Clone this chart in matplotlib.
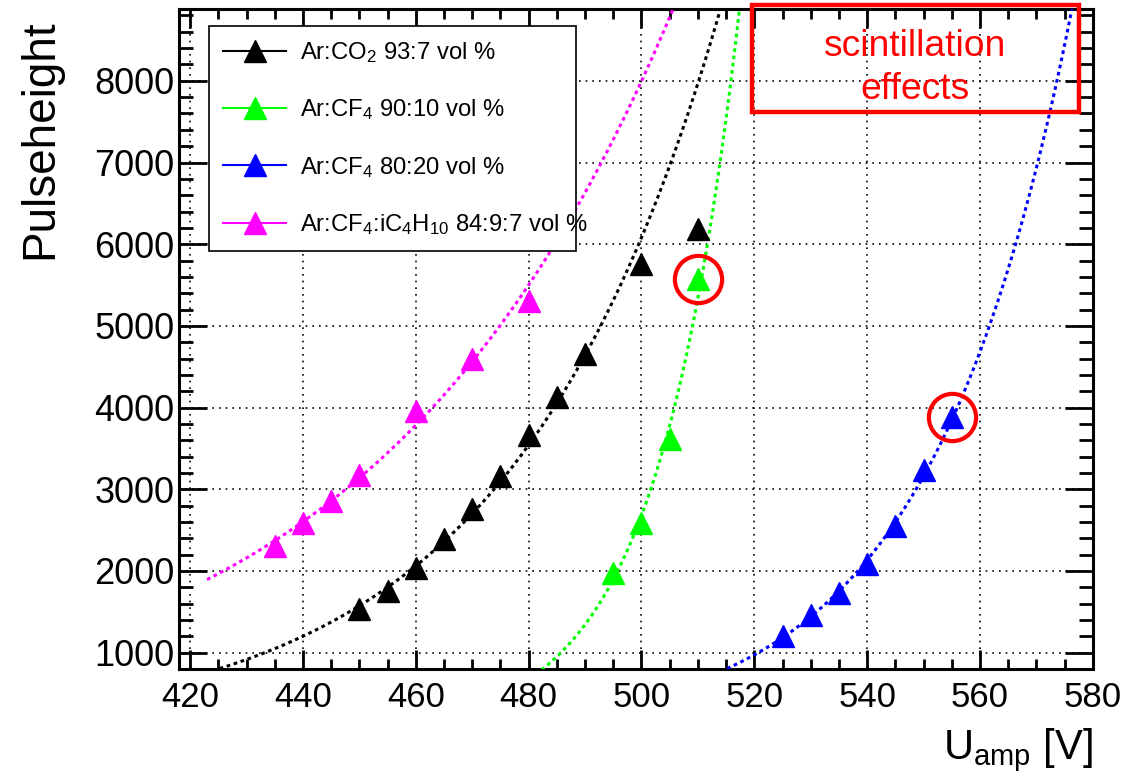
import numpy as np
import matplotlib
matplotlib.use("Agg")
import matplotlib.pyplot as plt
from matplotlib.lines import Line2D
from matplotlib.patches import Rectangle
from matplotlib.ticker import MultipleLocator

plt.rcParams['font.family'] = ['Liberation Sans', 'DejaVu Sans']
plt.rcParams['mathtext.fontset'] = 'custom'
plt.rcParams['mathtext.rm'] = 'Liberation Sans'
plt.rcParams['mathtext.it'] = 'Liberation Sans'

# measured pulse heights vs amplification voltage
labels = [r'Ar:CO$_2$ 93:7 vol %',
          r'Ar:CF$_4$ 90:10 vol %',
          r'Ar:CF$_4$ 80:20 vol %',
          r'Ar:CF$_4$:iC$_4$H$_{10}$ 84:9:7 vol %']
colors = ['#000000', '#00ff00', '#0000ff', '#ff00ff']

u_co2 = [450, 455, 460, 465, 470, 475, 480, 485, 490, 500, 510]
ph_co2 = [1540, 1760, 2040, 2390, 2760, 3160, 3660, 4130, 4660, 5760, 6180]
u_cf4_10 = [495, 500, 505, 510]
ph_cf4_10 = [1970, 2590, 3610, 5570]
u_cf4_20 = [525, 530, 535, 540, 545, 550, 555]
ph_cf4_20 = [1200, 1460, 1730, 2080, 2555, 3230, 3880]
u_iso = [435, 440, 445, 450, 460, 470, 480]
ph_iso = [2310, 2590, 2860, 3180, 3960, 4600, 5310]

series_u = [u_co2, u_cf4_10, u_cf4_20, u_iso]
series_ph = [ph_co2, ph_cf4_10, ph_cf4_20, ph_iso]

# exponential fit: last voltage included, and drawn range
fit_upto = [500, 510, 555, 480]
fit_lo = [424, 478, 514, 423]
fit_hi = [520, 520, 580, 512]

# points marked as affected by scintillation (series, point index)
circled = [(1, 3), (2, 6)]

fig = plt.figure(figsize=(11.25, 7.83), dpi=100)
ax = fig.add_axes([0.159, 0.1456, 0.8124, 0.843])

for u, ph, c, up, lo, hi in zip(series_u, series_ph, colors, fit_upto, fit_lo, fit_hi):
    u = np.array(u, float)
    ph = np.array(ph, float)
    m = u <= up
    k, b = np.polyfit(u[m], np.log(ph[m]), 1)
    xf = np.linspace(lo, hi, 300)
    ax.plot(xf, np.exp(k * xf + b), ls=(0, (1.2, 1.2)), color=c, lw=2.2, zorder=3)
    ax.plot(u, ph, ls='none', marker='^', ms=16, color=c, mec=c, zorder=4)

for s, i in circled:
    ax.plot(series_u[s][i], series_ph[s][i], ls='none', marker='o', ms=34,
            mfc='none', mec='#ff0000', mew=3, zorder=5, clip_on=False)

ax.set_xlim(418, 580)
ax.set_ylim(800, 8880)
ax.xaxis.set_major_locator(MultipleLocator(20))
ax.xaxis.set_minor_locator(MultipleLocator(5))
ax.yaxis.set_major_locator(MultipleLocator(1000))
ax.yaxis.set_minor_locator(MultipleLocator(200))
ax.grid(True, which='major', color='black', ls=(0, (1, 3)), lw=1.2, zorder=1)

ax.tick_params(axis='x', which='major', direction='in', top=True, length=14, width=2,
               pad=9, labelsize=25)
ax.tick_params(axis='x', which='minor', direction='in', top=True, length=7, width=2)
ax.tick_params(axis='y', which='major', direction='in', right=True, length=20, width=2,
               pad=3, labelsize=26)
ax.tick_params(axis='y', which='minor', direction='in', right=True, length=10, width=2)
for sp in ax.spines.values():
    sp.set_linewidth(2.2)

handles = [Line2D([], [], color=c, lw=1.5, marker='^', ms=16.5) for c in colors]
leg_w = 0.4015
leg = ax.legend(handles, labels, loc='upper left',
                bbox_to_anchor=(0.0328, 0.60, leg_w, 0.374), mode='expand',
                borderaxespad=0, fontsize=17.2, handlelength=2.65, handletextpad=0.55,
                labelspacing=1.35, borderpad=0.6, fancybox=False, framealpha=1,
                edgecolor='black')
leg.get_frame().set_linewidth(1.2)
leg.set_zorder(6)

ax.add_patch(Rectangle((0.627, 0.844), 0.358, 0.162, transform=ax.transAxes,
                       fill=False, ec='#ff0000', lw=3.2, clip_on=False, zorder=7))
ax.text(0.805, 0.911, 'scintillation\neffects', transform=ax.transAxes, ha='center',
        va='center', color='#ff0000', fontsize=26.8, linespacing=1.3, zorder=7)

fig.text(0.036, 0.975, 'Pulseheight', rotation=90, ha='center', va='top', fontsize=33)
fig.text(0.9716, 0.03, r'U$_{\mathrm{amp}}$ [V]', ha='right', va='baseline', fontsize=30)

fig.savefig('out.png', dpi=100)
